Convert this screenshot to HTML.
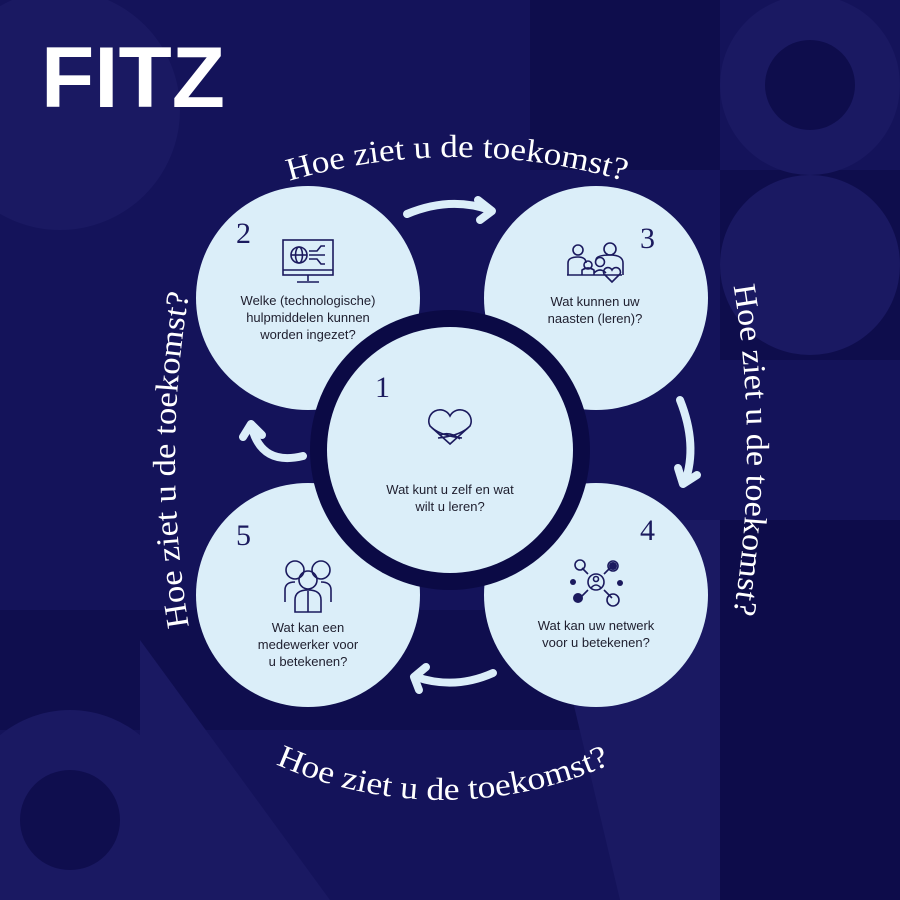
<!DOCTYPE html>
<html><head><meta charset="utf-8"><style>
html,body{margin:0;padding:0;}
body{width:900px;height:900px;overflow:hidden;background:#14135a;}
svg{display:block;}
</style></head><body>
<svg width="900" height="900" viewBox="0 0 900 900" xmlns="http://www.w3.org/2000/svg">
<defs>
<path id="ptop" d="M -143,757 A 600 600 0 0 1 1057,757"/>
<path id="pright" d="M -253,-550 A 1000 1000 0 0 1 -253,1450"/>
<path id="pleft" d="M 1175,1460 A 1000 1000 0 0 1 1175,-540"/>
<path id="pbot" d="M 33,390 A 410 410 0 0 0 853,390"/>
</defs>
<rect width="900" height="900" fill="#14135a"/>
<rect x="530" y="0" width="190" height="170" fill="#0e0d4c"/>
<rect x="720" y="170" width="180" height="190" fill="#0e0d4c"/>
<rect x="0" y="610" width="900" height="120" fill="#0f0e4e"/>
<rect x="720" y="520" width="180" height="380" fill="#0d0c4a"/>
<circle cx="810" cy="85" r="90" fill="#1a1962"/>
<circle cx="810" cy="85" r="45" fill="#0e0d4c"/>
<circle cx="810" cy="265" r="90" fill="#1a1962"/>
<circle cx="60" cy="110" r="120" fill="#1a1962"/>
<circle cx="70" cy="820" r="110" fill="#1a1962"/>
<circle cx="70" cy="820" r="50" fill="#0f0e4e"/>
<polygon points="140,640 330,900 140,900" fill="#1a1962"/>
<polygon points="530,520 720,520 720,900 620,900" fill="#1a1962"/>
<text x="41" y="107" font-family="Liberation Sans, sans-serif" font-weight="bold" font-size="86" fill="#fff" textLength="184" lengthAdjust="spacingAndGlyphs">FITZ</text>
<circle cx="308" cy="298" r="112" fill="#dbeef9"/>
<circle cx="596" cy="298" r="112" fill="#dbeef9"/>
<circle cx="308" cy="595" r="112" fill="#dbeef9"/>
<circle cx="596" cy="595" r="112" fill="#dbeef9"/>
<circle cx="450" cy="450" r="140" fill="#0b0a45"/>
<circle cx="450" cy="450" r="123" fill="#dbeef9"/>
<g font-family="Liberation Serif, serif" font-size="30" fill="#1b1a5e">
<text x="236" y="243">2</text>
<text x="640" y="248">3</text>
<text x="375" y="397">1</text>
<text x="236" y="545">5</text>
<text x="640" y="540">4</text>
</g>
<g font-family="Liberation Sans, sans-serif" font-size="13" fill="#1e1e2e" text-anchor="middle">
<text x="308" y="305">Welke (technologische)</text>
<text x="308" y="322">hulpmiddelen kunnen</text>
<text x="308" y="339">worden ingezet?</text>
<text x="595" y="306">Wat kunnen uw</text>
<text x="595" y="323">naasten (leren)?</text>
<text x="450" y="494">Wat kunt u zelf en wat</text>
<text x="450" y="511">wilt u leren?</text>
<text x="308" y="632">Wat kan een</text>
<text x="308" y="649">medewerker voor</text>
<text x="308" y="666">u betekenen?</text>
<text x="596" y="630">Wat kan uw netwerk</text>
<text x="596" y="647">voor u betekenen?</text>
</g>
<g fill="none" stroke="#1b1a5e" stroke-width="1.6">
<rect x="283" y="240" width="50" height="35"/>
<line x1="283" y1="270" x2="333" y2="270"/>
<line x1="308" y1="275" x2="308" y2="281"/><line x1="297" y1="282" x2="319" y2="282"/>
<circle cx="299" cy="255" r="8"/><line x1="291" y1="255" x2="307" y2="255"/><ellipse cx="299" cy="255" rx="3.5" ry="8"/>
<path d="M309 251 h8 l4 -5 h4 M309 255 h16 M309 259 h8 l4 5 h4"/>
<circle cx="578" cy="250" r="5"/><circle cx="610" cy="249" r="6"/><circle cx="600" cy="262" r="4.5"/><circle cx="588" cy="265" r="4"/>
<path d="M568 275 v-12 q0 -6 10 -6 q8 0 8 6 M596 260 q0 -5 14 -5 q13 0 13 8 v12 M567 275 h55 M582 275 v-5 q6 -4 12 0 v5 M594 273 q6 -6 12 0"/>
<path d="M612 282 l-8 -8 a4 4 0 0 1 8 -4 a4 4 0 0 1 8 4 z"/>
<path d="M450 444 l-20 -18 a10 10 0 0 1 20 -10 a10 10 0 0 1 20 10 z"/>
<path d="M432 428 q10 8 30 10 M468 428 q-10 8 -30 10 M440 435 q10 -4 20 4"/>
<circle cx="295" cy="570" r="9"/><circle cx="321" cy="570" r="9"/><circle cx="308" cy="580" r="9"/>
<path d="M285 602 v-12 q0 -8 10 -8 M331 602 v-12 q0 -8 -10 -8 M295 612 v-12 q0 -10 13 -10 q13 0 13 10 v12 z M308 591 v21"/>
<circle cx="596" cy="582" r="8"/><circle cx="596" cy="579" r="2.5"/><path d="M591 588 q5 -6 10 0"/>
<line x1="588" y1="574" x2="582" y2="568"/><line x1="604" y1="574" x2="610" y2="568"/>
<line x1="588" y1="590" x2="582" y2="596"/><line x1="604" y1="590" x2="612" y2="598"/>
<circle cx="580" cy="565" r="5"/><circle cx="613" cy="566" r="5"/><circle cx="613" cy="600" r="6"/>
</g>
<g fill="#1b1a5e"><circle cx="613" cy="566" r="4"/><circle cx="578" cy="598" r="5"/><circle cx="620" cy="583" r="3"/><circle cx="573" cy="582" r="3"/></g>
<g fill="none" stroke="#dbeef9" stroke-width="8" stroke-linecap="round" stroke-linejoin="round">
<path d="M407 214 Q450 196 490 210"/><path d="M478 200 L492 211 L480 220"/>
<path d="M680 400 Q698 445 685 482"/><path d="M678 468 L683 484 L697 475"/>
<path d="M493 673 Q455 690 416 677"/><path d="M426 667 L414 677 L419 690"/>
<path d="M303 456 Q262 466 252 428"/><path d="M243 437 L251 424 L262 435"/>
</g>
<g font-family="Liberation Serif, serif" font-size="32" fill="#ffffff" text-anchor="middle">
<text><textPath href="#ptop" startOffset="50%" textLength="340" lengthAdjust="spacingAndGlyphs">Hoe ziet u de toekomst?</textPath></text>
<text><textPath href="#pright" startOffset="50%" textLength="330" lengthAdjust="spacingAndGlyphs">Hoe ziet u de toekomst?</textPath></text>
<text><textPath href="#pleft" startOffset="50%" textLength="335" lengthAdjust="spacingAndGlyphs">Hoe ziet u de toekomst?</textPath></text>
<text><textPath href="#pbot" startOffset="50%" textLength="345" lengthAdjust="spacingAndGlyphs">Hoe ziet u de toekomst?</textPath></text>
</g>
</svg>
</body></html>
